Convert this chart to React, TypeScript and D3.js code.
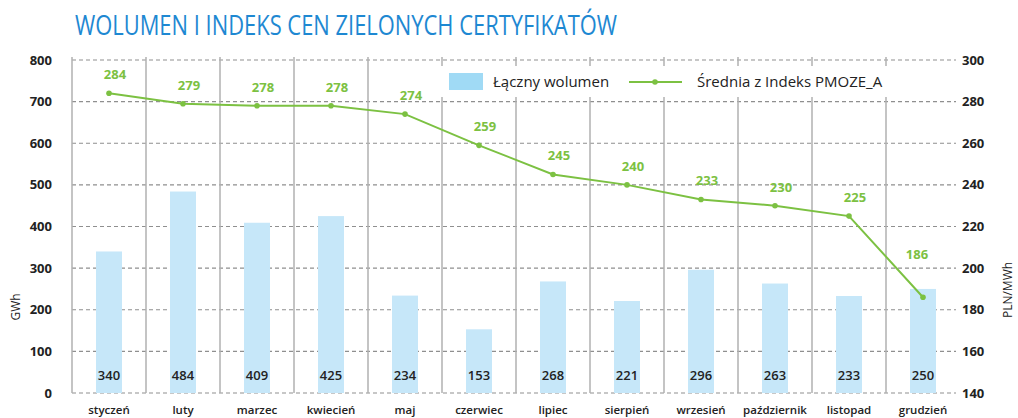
import React from "react";
import * as d3 from "d3";

const months = ["styczeń", "luty", "marzec", "kwiecień", "maj", "czerwiec", "lipiec", "sierpień", "wrzesień", "październik", "listopad", "grudzień"];
const volume = [340, 484, 409, 425, 234, 153, 268, 221, 296, 263, 233, 250];
const priceIndex = [284, 279, 278, 278, 274, 259, 245, 240, 233, 230, 225, 186];
const leftTicks = [0, 100, 200, 300, 400, 500, 600, 700, 800];
const rightTicks = [140, 160, 180, 200, 220, 240, 260, 280, 300];
const title = "WOLUMEN I INDEKS CEN ZIELONYCH CERTYFIKATÓW";
const legendBar = "Łączny wolumen";
const legendLine = "Średnia z Indeks PMOZE_A";

const FONT = "'Open Sans', 'Noto Sans', sans-serif";
const GREEN = "#7cc142";
const BAR = "#c6e7f9";

export default function App() {
  const W = 1018, H = 418;
  const x0 = 72, x1 = 960, yTop = 60, yBot = 393;
  const x = d3.scaleBand<string>().domain(months).range([x0, x1]).padding(0);
  const yL = d3.scaleLinear().domain([0, 800]).range([yBot, yTop]);
  const yR = d3.scaleLinear().domain([140, 300]).range([yBot, yTop]);
  const bw = 26;
  const cx = (m: string) => (x(m) as number) + x.bandwidth() / 2;
  const line = d3.line<number>().x((_, i) => cx(months[i])).y((d) => yR(d));
  const last = priceIndex.length - 1;

  return (
    <svg width={W} height={H} style={{ position: "absolute", left: 0, top: 0, background: "#fff" }} fontFamily={FONT}>
      <text x={75} y={35} fontSize={27} fill="#1e88d2" textLength={542} lengthAdjust="spacingAndGlyphs">{title}</text>

      {leftTicks.map((t) => (
        <line key={"g" + t} x1={x0} x2={956} y1={yL(t)} y2={yL(t)} stroke="#8f8f8f" strokeWidth={1.2} strokeDasharray="4,3" />
      ))}
      {months.map((m) => (
        <line key={"v" + m} x1={x(m) as number} x2={x(m) as number} y1={57} y2={yBot} stroke="#b0b0b0" strokeWidth={1.5} />
      ))}

      {volume.map((v, i) => (
        <rect key={"b" + i} x={cx(months[i]) - bw / 2} y={yL(v)} width={bw} height={yBot - yL(v)} fill={BAR} />
      ))}
      {volume.map((v, i) => (
        <text key={"bl" + i} x={cx(months[i])} y={380} textAnchor="middle" fontSize={13} fontWeight={600} fill="#222">{v}</text>
      ))}

      <rect x={436} y={66} width={460} height={31} fill="#fff" />
      <rect x={449} y={73} width={34} height={17} fill="#a0daf5" />
      <text x={493} y={87} fontSize={15} fontWeight={500} fill="#222">{legendBar}</text>
      <line x1={629} x2={682} y1={82} y2={82} stroke={GREEN} strokeWidth={2} />
      <circle cx={655} cy={82} r={2.8} fill={GREEN} />
      <text x={697} y={87} fontSize={15} fontWeight={500} fill="#222">{legendLine}</text>

      <path d={line(priceIndex) || ""} fill="none" stroke={GREEN} strokeWidth={2} />
      {priceIndex.map((v, i) => (
        <circle key={"p" + i} cx={cx(months[i])} cy={yR(v)} r={2.8} fill={GREEN} />
      ))}
      {priceIndex.map((v, i) => (
        <text key={"pl" + i} x={cx(months[i]) + (i === last ? -6 : 6)} y={yR(v) - (i === last ? 38 : 14)} textAnchor="middle" fontSize={13} fontWeight={700} fill={GREEN}>{v}</text>
      ))}

      {leftTicks.map((t) => (
        <text key={"lt" + t} x={52} y={yL(t) + 4.5} textAnchor="end" fontSize={13} fontWeight={700} fill="#222">{t}</text>
      ))}
      {rightTicks.map((t) => (
        <text key={"rt" + t} x={962} y={yR(t) + 4.5} textAnchor="start" fontSize={13} fontWeight={700} fill="#222">{t}</text>
      ))}
      <text transform="translate(20,307) rotate(-90)" textAnchor="middle" fontSize={12} fontWeight={500} fill="#222">GWh</text>
      <text transform="translate(1012,290) rotate(-90)" textAnchor="middle" fontSize={12} fontWeight={500} fill="#222">PLN/MWh</text>

      {months.map((m) => (
        <text key={"x" + m} x={cx(m)} y={414} textAnchor="middle" fontSize={11.5} fontWeight={600} fill="#222">{m}</text>
      ))}
    </svg>
  );
}
